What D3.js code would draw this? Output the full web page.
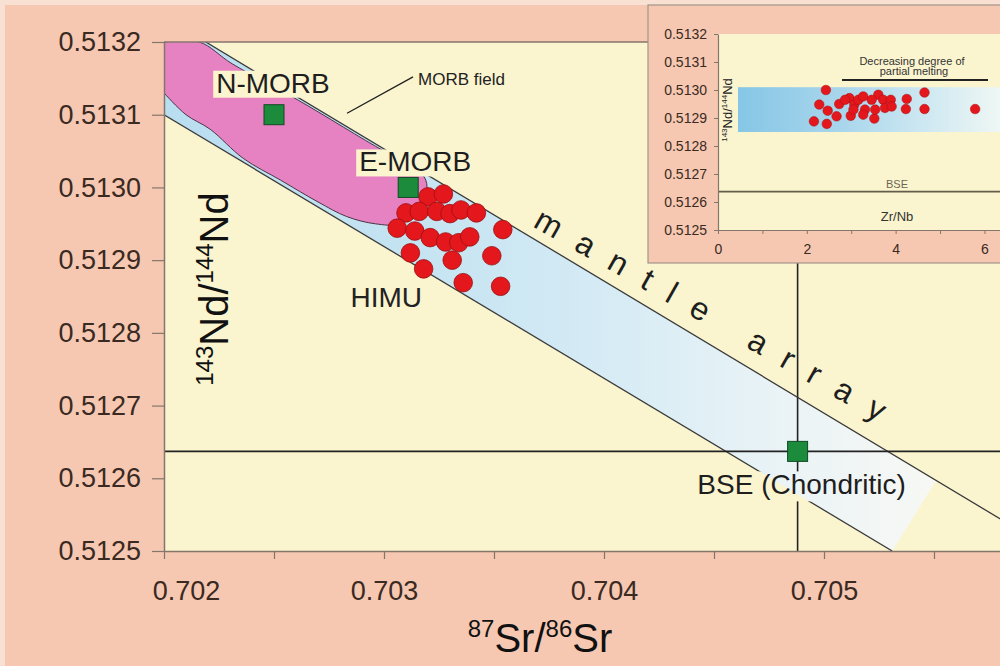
<!DOCTYPE html>
<html>
<head>
<meta charset="utf-8">
<script src="https://cdn.jsdelivr.net/npm/d3@7/dist/d3.min.js"></script>
<style>
  body { margin: 0; background: #f6c8b2; }
  svg { display: block; font-family: "Liberation Sans", Arial, sans-serif; }
</style>
</head>
<body>
<div id="chart"></div>
<script>
// ---- main diagram values ----
var srTicks = [0.702, 0.703, 0.704, 0.705];
var srMinorTicks = [0.7025, 0.7035, 0.7045, 0.7055];
var ndTicks = [0.5125, 0.5126, 0.5127, 0.5128, 0.5129, 0.5130, 0.5131, 0.5132];

// HIMU samples (87Sr/86Sr, 143Nd/144Nd)
var himuSr = [0.70320, 0.70327, 0.70310, 0.70316, 0.70324, 0.70330, 0.70335, 0.70342,
  0.70306, 0.70314, 0.70321, 0.70328, 0.70334, 0.70339, 0.70354, 0.70312,
  0.70331, 0.70349, 0.70318, 0.70336, 0.70353];
var himuNd = [0.512987, 0.512991, 0.512965, 0.512967, 0.512967, 0.512964, 0.512969, 0.512965,
  0.512944, 0.512940, 0.512931, 0.512925, 0.512924, 0.512932, 0.512942, 0.512910,
  0.512900, 0.512906, 0.512888, 0.512869, 0.512864];

// reservoirs
var endNames = ["N-MORB", "E-MORB", "BSE (Chondritic)"];
var endSr = [0.7025, 0.70311, 0.70488];
var endNd = [0.5131, 0.5130, 0.512637];

// MORB field outline
var morbSr = [0.70200, 0.70216, 0.70231, 0.70261, 0.70300, 0.70313, 0.70319, 0.70319,
  0.70314, 0.70307, 0.70296, 0.70283, 0.70270, 0.70253, 0.70236, 0.70221, 0.70210, 0.70200];
var morbNd = [0.51320, 0.51320, 0.51317, 0.51312, 0.51305, 0.51303, 0.51301, 0.51299,
  0.51297, 0.51295, 0.51295, 0.51296, 0.51298, 0.51301, 0.51304, 0.51308, 0.51310, 0.51313];

// mantle array band
var arrayFillSr = [0.70200, 0.70200, 0.70219, 0.70551, 0.70531];
var arrayFillNd = [0.51310, 0.51320, 0.51320, 0.512597, 0.51250];
var upperEdgeSr = [0.70219, 0.70600];
var upperEdgeNd = [0.51320, 0.512508];
var lowerEdgeSr = [0.70200, 0.70531];
var lowerEdgeNd = [0.51310, 0.51250];

// ---- inset values ----
var zrnbTicks = [0, 1, 2, 3, 4, 5, 6];
var zrnbLabels = [0, 2, 4, 6];
var insetZrNb = [2.43, 2.28, 2.47, 2.16, 2.45, 2.67, 2.73, 2.96, 2.99, 3.07, 3.16, 3.27, 3.31, 3.27, 3.52,
  3.54, 3.61, 3.72, 3.76, 3.89, 3.91, 4.25, 4.23, 4.65, 4.65, 5.79, 2.86, 3.05, 3.46];
var insetNd = [0.51300, 0.512948, 0.512926, 0.512888, 0.512879, 0.512906, 0.51295, 0.512971, 0.512908,
  0.512948, 0.512965, 0.512977, 0.51293, 0.512912, 0.512898, 0.51293, 0.512983, 0.512965, 0.512936,
  0.512965, 0.512941, 0.512968, 0.512932, 0.512991, 0.512932, 0.512932, 0.512965, 0.51293, 0.512965];
var insetBandZr = [0.45, 6.6];
var insetBandNd = [0.51285, 0.51301];

var width = 1000,
  height = 666;
var salmon = "#f6c8b2",
  cream = "#fbf5cf",
  axisCol = "#85766b",
  textCol = "#3a2a22";

var x = d3.scaleLinear().domain([0.702, 0.7058]).range([164, 1000]);
var y = d3.scaleLinear().domain([0.5125, 0.5132]).range([551, 42]);

var svg = d3.select("#chart").append("svg")
  .attr("width", width)
  .attr("height", height);

var defs = svg.append("defs");

defs.append("clipPath").attr("id", "plotclip")
  .append("rect")
  .attr("x", x.range()[0]).attr("y", y.range()[1])
  .attr("width", x.range()[1] - x.range()[0])
  .attr("height", y.range()[0] - y.range()[1]);

var bandGrad = defs.append("linearGradient")
  .attr("id", "bandgrad")
  .attr("gradientUnits", "userSpaceOnUse")
  .attr("x1", x(0.702)).attr("x2", x(0.7055)).attr("y1", 0).attr("y2", 0);
[["0", "#b9def0"], ["0.35", "#c6e4f2"], ["0.6", "#d8ecf5"], ["0.8", "#eaf3f6"], ["1", "#f7f8f4"]]
  .forEach(function(s) {
    bandGrad.append("stop").attr("offset", s[0]).attr("stop-color", s[1]);
  });

var insetGrad = defs.append("linearGradient")
  .attr("id", "insetgrad")
  .attr("gradientUnits", "userSpaceOnUse")
  .attr("x1", 738).attr("x2", 1000).attr("y1", 0).attr("y2", 0);
[["0", "#86c6e6"], ["0.4", "#a9d6ec"], ["0.75", "#d2eaf2"], ["1", "#eef7f4"]]
  .forEach(function(s) {
    insetGrad.append("stop").attr("offset", s[0]).attr("stop-color", s[1]);
  });

//background
svg.append("rect").attr("width", width).attr("height", height).attr("fill", "#f8e0d3");
svg.append("rect").attr("x", 5).attr("y", 5).attr("width", width).attr("height", height).attr("fill", salmon);
svg.append("rect")
  .attr("x", x.range()[0]).attr("y", y.range()[1])
  .attr("width", x.range()[1] - x.range()[0])
  .attr("height", y.range()[0] - y.range()[1])
  .attr("fill", cream);

var plot = svg.append("g").attr("clip-path", "url(#plotclip)");

var line = d3.line()
  .x(function(d) { return x(d[0]); })
  .y(function(d) { return y(d[1]); });

//mantle array band
plot.append("path")
  .attr("d", line(d3.zip(arrayFillSr, arrayFillNd)) + "Z")
  .attr("fill", "url(#bandgrad)");

//MORB field
plot.append("path")
  .attr("d", line.curve(d3.curveCatmullRom.alpha(0.5))(d3.zip(morbSr, morbNd)) + "Z")
  .attr("fill", "#e682c2")
  .attr("stroke", "#4d3444")
  .attr("stroke-width", 1);
line.curve(d3.curveLinear);

//lines that break around the BSE label
var gapMask = defs.append("mask").attr("id", "labelgap").attr("maskUnits", "userSpaceOnUse")
  .attr("x", 0).attr("y", 0).attr("width", width).attr("height", height);
gapMask.append("rect").attr("width", width).attr("height", height).attr("fill", "white");

var gapped = plot.append("g").attr("mask", "url(#labelgap)");

plot.append("path")
  .attr("d", line(d3.zip(upperEdgeSr, upperEdgeNd)))
  .attr("fill", "none").attr("stroke", "#3a3a3a").attr("stroke-width", 1.3);
gapped.append("path")
  .attr("d", line(d3.zip(lowerEdgeSr, lowerEdgeNd)))
  .attr("fill", "none").attr("stroke", "#3a3a3a").attr("stroke-width", 1.3);

//BSE cross lines
plot.append("line")
  .attr("x1", x.range()[0]).attr("x2", x.range()[1])
  .attr("y1", y(endNd[2])).attr("y2", y(endNd[2]))
  .attr("stroke", "#222").attr("stroke-width", 1.6);
gapped.append("line")
  .attr("x1", x(endSr[2])).attr("x2", x(endSr[2]))
  .attr("y1", y.range()[1]).attr("y2", y.range()[0])
  .attr("stroke", "#222").attr("stroke-width", 1.6);

//mantle array label
plot.append("text")
  .attr("transform", "translate(" + x(0.70446) + "," + y(0.512812) + ") rotate(29.5)")
  .attr("text-anchor", "middle")
  .attr("dx", 10)
  .style("font-size", "32px")
  .style("letter-spacing", "20px")
  .attr("fill", "#1e1e1e")
  .text("mantle array");

//MORB field pointer
plot.append("line")
  .attr("x1", x(0.702832)).attr("y1", y(0.513102))
  .attr("x2", x(0.703132)).attr("y2", y(0.513152))
  .attr("stroke", "#222").attr("stroke-width", 1.4);
plot.append("text")
  .attr("x", x(0.703155)).attr("y", y(0.513141))
  .style("font-size", "17px")
  .attr("fill", "#222")
  .text("MORB field");

//HIMU samples
plot.selectAll("circle.himu")
  .data(d3.zip(himuSr, himuNd))
  .enter().append("circle")
  .attr("class", "himu")
  .attr("cx", function(d) { return x(d[0]); })
  .attr("cy", function(d) { return y(d[1]); })
  .attr("r", 9.3)
  .attr("fill", "#e3171c")
  .attr("stroke", "#9a1013")
  .attr("stroke-width", 0.8);

plot.append("text")
  .attr("x", x(0.70301)).attr("y", y(0.512836))
  .attr("text-anchor", "middle")
  .style("font-size", "28px")
  .attr("fill", "#222")
  .text("HIMU");

//reservoir labels (offsets from their square)
var labelOffset = [[-1, -22, true], [7, -16, true], [4, 43, false]];
endNames.forEach(function(name, i) {
  var t = plot.append("text")
    .attr("x", x(endSr[i]) + labelOffset[i][0])
    .attr("y", y(endNd[i]) + labelOffset[i][1])
    .attr("text-anchor", "middle")
    .style("font-size", "28px")
    .attr("fill", "#1e1e1e")
    .text(name);
  var bb = t.node().getBBox();
  if (labelOffset[i][2]) {
    plot.insert("rect", function() { return t.node(); })
      .attr("x", bb.x - 3).attr("y", bb.y + 3)
      .attr("width", bb.width + 6).attr("height", bb.height - 4)
      .attr("fill", cream);
  } else {
    gapMask.append("rect")
      .attr("x", bb.x - 4).attr("y", bb.y + 2)
      .attr("width", bb.width + 8).attr("height", bb.height - 1)
      .attr("fill", "black");
  }
});

//reservoir squares
plot.selectAll("rect.end")
  .data(d3.zip(endSr, endNd))
  .enter().append("rect")
  .attr("class", "end")
  .attr("x", function(d) { return x(d[0]) - 10; })
  .attr("y", function(d) { return y(d[1]) - 10; })
  .attr("width", 20).attr("height", 20)
  .attr("fill", "#1d8b3c")
  .attr("stroke", "#0f4a22")
  .attr("stroke-width", 1);

//axes
svg.append("line")
  .attr("x1", x.range()[0]).attr("x2", x.range()[1])
  .attr("y1", y.range()[1]).attr("y2", y.range()[1])
  .attr("stroke", axisCol).attr("stroke-width", 1.5);

var yAxis = svg.append("g")
  .attr("transform", "translate(" + x.range()[0] + ",0)")
  .call(d3.axisLeft(y).tickValues(ndTicks).tickFormat(d3.format(".4f"))
    .tickSize(12).tickPadding(11).tickSizeOuter(0));

var xAxis = svg.append("g")
  .attr("transform", "translate(0," + y.range()[0] + ")")
  .call(d3.axisBottom(x).tickValues(srTicks.concat(srMinorTicks))
    .tickFormat(function(d) { return srTicks.indexOf(d) >= 0 ? d3.format(".3f")(d) : ""; })
    .tickSize(8).tickPadding(22).tickSizeOuter(0));

xAxis.selectAll("text").filter(function(d) { return d === srTicks[0]; }).attr("dx", 22);

[xAxis, yAxis].forEach(function(a) {
  a.attr("font-family", null).attr("font-size", null);
  a.select(".domain").attr("stroke", axisCol).attr("stroke-width", 1.5);
  a.selectAll(".tick line").attr("stroke", axisCol).attr("stroke-width", 1.2);
  a.selectAll(".tick text").style("font-size", "27px").attr("fill", textCol);
});

//axis titles
var yTitle = svg.append("text")
  .attr("transform", "translate(228,289) rotate(-90)")
  .attr("text-anchor", "middle")
  .attr("fill", "#111")
  .style("font-size", "40px");
yTitle.append("tspan").style("font-size", "24px").attr("dy", -15).text("143");
yTitle.append("tspan").attr("dy", 15).text("Nd/");
yTitle.append("tspan").style("font-size", "24px").attr("dy", -15).text("144");
yTitle.append("tspan").attr("dy", 15).text("Nd");

var xTitle = svg.append("text")
  .attr("x", 540).attr("y", 652)
  .attr("text-anchor", "middle")
  .attr("fill", "#111")
  .style("font-size", "40px");
xTitle.append("tspan").style("font-size", "24px").attr("dy", -15).text("87");
xTitle.append("tspan").attr("dy", 15).text("Sr/");
xTitle.append("tspan").style("font-size", "24px").attr("dy", -15).text("86");
xTitle.append("tspan").attr("dy", 15).text("Sr");

// ---- inset ----
var xi = d3.scaleLinear().domain([0, 6.35]).range([718, 1000]);
var yi = d3.scaleLinear().domain([0.5125, 0.5132]).range([230, 34]);

var inset = svg.append("g").attr("id", "inset");
inset.append("rect")
  .attr("x", 648).attr("y", 5).attr("width", 360).attr("height", 258)
  .attr("fill", salmon).attr("stroke", "#a3948a").attr("stroke-width", 1.2);
inset.append("rect")
  .attr("x", xi.range()[0]).attr("y", yi.range()[1])
  .attr("width", xi.range()[1] - xi.range()[0])
  .attr("height", yi.range()[0] - yi.range()[1])
  .attr("fill", cream);

inset.append("rect")
  .attr("x", xi(insetBandZr[0])).attr("y", yi(insetBandNd[1]))
  .attr("width", xi(insetBandZr[1]) - xi(insetBandZr[0]))
  .attr("height", yi(insetBandNd[0]) - yi(insetBandNd[1]))
  .attr("fill", "url(#insetgrad)");

inset.append("line")
  .attr("x1", xi.range()[0]).attr("x2", xi.range()[1])
  .attr("y1", yi(endNd[2])).attr("y2", yi(endNd[2]))
  .attr("stroke", "#615d4a").attr("stroke-width", 1.6);

inset.append("text")
  .attr("x", 897).attr("y", yi(endNd[2]) - 4)
  .attr("text-anchor", "middle")
  .style("font-size", "11px").attr("fill", "#6b6552")
  .text("BSE");
inset.append("text")
  .attr("x", 897).attr("y", 221)
  .attr("text-anchor", "middle")
  .style("font-size", "13px").attr("fill", "#333")
  .text("Zr/Nb");

inset.append("text")
  .attr("x", 912).attr("y", 65)
  .attr("text-anchor", "middle")
  .style("font-size", "11px").attr("fill", "#333")
  .text("Decreasing degree of");
inset.append("text")
  .attr("x", 914).attr("y", 75)
  .attr("text-anchor", "middle")
  .style("font-size", "11px").attr("fill", "#333")
  .text("partial melting");
inset.append("line")
  .attr("x1", 842).attr("x2", 988).attr("y1", 80).attr("y2", 80)
  .attr("stroke", "#222").attr("stroke-width", 2);

inset.selectAll("circle")
  .data(d3.zip(insetZrNb, insetNd))
  .enter().append("circle")
  .attr("cx", function(d) { return xi(d[0]); })
  .attr("cy", function(d) { return yi(d[1]); })
  .attr("r", 4.8)
  .attr("fill", "#e3171c")
  .attr("stroke", "#a51215")
  .attr("stroke-width", 0.5);

var yiAxis = inset.append("g")
  .attr("transform", "translate(" + xi.range()[0] + ",0)")
  .call(d3.axisLeft(yi).tickValues(ndTicks).tickFormat(d3.format(".4f"))
    .tickSize(4).tickPadding(7).tickSizeOuter(0));
var xiAxis = inset.append("g")
  .attr("transform", "translate(0," + yi.range()[0] + ")")
  .call(d3.axisBottom(xi).tickValues(zrnbTicks)
    .tickFormat(function(d) { return zrnbLabels.indexOf(d) >= 0 ? d : ""; })
    .tickSize(4).tickPadding(10).tickSizeOuter(0));

[xiAxis, yiAxis].forEach(function(a) {
  a.attr("font-family", null).attr("font-size", null);
  a.select(".domain").attr("stroke", axisCol).attr("stroke-width", 1.2);
  a.selectAll(".tick line").attr("stroke", axisCol);
  a.selectAll(".tick text").style("font-size", "14px").attr("fill", textCol);
});

var yiTitle = inset.append("text")
  .attr("transform", "translate(732,110) rotate(-90)")
  .attr("text-anchor", "middle")
  .attr("fill", "#222")
  .style("font-size", "13px");
yiTitle.append("tspan").style("font-size", "8px").attr("dy", -5).text("143");
yiTitle.append("tspan").attr("dy", 5).text("Nd/");
yiTitle.append("tspan").style("font-size", "8px").attr("dy", -5).text("144");
yiTitle.append("tspan").attr("dy", 5).text("Nd");
</script>
</body>
</html>
